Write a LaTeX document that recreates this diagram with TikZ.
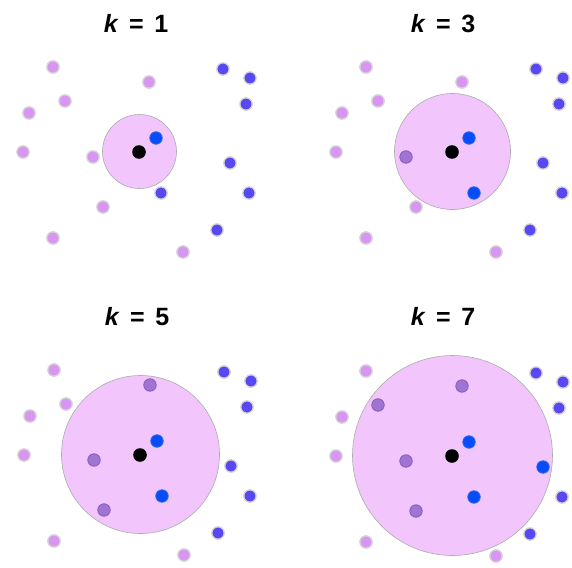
\documentclass[tikz,border=0pt]{standalone}
\usepackage{fontspec}
\setmainfont{Liberation Sans}
\definecolor{lav}{RGB}{216,150,242}
\definecolor{dpur}{RGB}{160,116,210}
\definecolor{dpurrim}{RGB}{136,94,188}
\definecolor{bp}{RGB}{88,72,242}
\definecolor{bb}{RGB}{8,76,248}
\definecolor{bbrim}{RGB}{40,100,240}
\definecolor{ball}{RGB}{242,198,252}
\tikzset{
  halo/.style={draw=white!84!black, line width=1.3pt},
  lavpt/.style={fill=lav, halo},
  inpt/.style={fill=dpur, draw=dpurrim, line width=0.9pt},
  bppt/.style={fill=bp, halo},
  bbpt/.style={fill=bb, draw=bbrim, line width=0.9pt},
  qpt/.style={fill=black},
  knnball/.style={fill=ball, draw=gray!65, line width=0.6pt},
  ktitle/.style={font=\fontsize{25}{30}\selectfont\bfseries, anchor=base, inner sep=0pt},
  lavA/.style={lavpt}, lavB/.style={lavpt}, lavC/.style={lavpt},
  lavD/.style={lavpt}, lavE/.style={lavpt}, lavF/.style={lavpt},
  lavG/.style={lavpt}, lavH/.style={lavpt}, lavI/.style={lavpt},
  bluA/.style={bppt}, bluB/.style={bppt}, bluC/.style={bppt},
  bluD/.style={bppt}, bluE/.style={bppt}, bluF/.style={bppt},
  bluG/.style={bppt}, bluH/.style={bbpt}
}
\newcommand{\knnpanel}[3]{%
  \begin{scope}[shift={#1}, #3]
    \path[knnball] (0.5,-0.5) circle[radius=#2];
    \path[lavA] (-86,-85) circle[radius=6.2pt];
    \path[lavB] (-74,-51) circle[radius=6.2pt];
    \path[lavC] (-110,-39) circle[radius=6.2pt];
    \path[lavD] (-116,0) circle[radius=6.2pt];
    \path[lavE] (-46,5) circle[radius=6.2pt];
    \path[lavF] (-36,55) circle[radius=6.2pt];
    \path[lavG] (-86,86) circle[radius=6.2pt];
    \path[lavH] (44,100) circle[radius=6.2pt];
    \path[lavI] (10,-70) circle[radius=6.2pt];
    \path[bluA] (84,-83) circle[radius=6.2pt];
    \path[bluB] (111,-74) circle[radius=6.2pt];
    \path[bluC] (107,-48) circle[radius=6.2pt];
    \path[bluD] (91,11) circle[radius=6.2pt];
    \path[bluE] (110,41) circle[radius=6.2pt];
    \path[bluF] (78,78) circle[radius=6.2pt];
    \path[bluG] (22,41) circle[radius=6.2pt];
    \path[bluH] (17,-14) circle[radius=6.2pt];
    \path[qpt] (0,0) circle[radius=6.8pt];
  \end{scope}}
\begin{document}
\begin{tikzpicture}[x=1pt,y=-1pt]
  \useasboundingbox[fill=white] (0,0) rectangle (572,567);
  \node[ktitle] (t1) at (136,33) {\textit{k}\hspace{0.42em}=\hspace{0.42em}1};
  \node[ktitle] (t3) at (443,33) {\textit{k}\hspace{0.42em}=\hspace{0.42em}3};
  \node[ktitle] (t5) at (137,325) {\textit{k}\hspace{0.42em}=\hspace{0.42em}5};
  \node[ktitle] (t7) at (443,325) {\textit{k}\hspace{0.42em}=\hspace{0.42em}7};
  \knnpanel{(139,152)}{37pt}{}
  \knnpanel{(452,152)}{58pt}{lavE/.style={inpt}, bluG/.style={bbpt}}
  \knnpanel{(140,455)}{79pt}{lavE/.style={inpt}, lavF/.style={inpt}, lavI/.style={inpt}, bluG/.style={bbpt}}
  \knnpanel{(452,456)}{100pt}{lavE/.style={inpt}, lavF/.style={inpt}, lavI/.style={inpt}, lavB/.style={inpt}, bluG/.style={bbpt}, bluD/.style={bbpt}}
\end{tikzpicture}
\end{document}
